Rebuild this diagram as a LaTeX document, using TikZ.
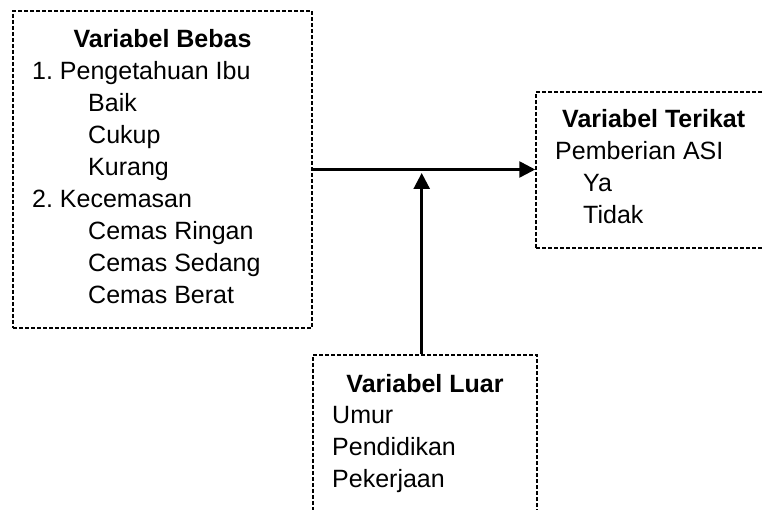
\documentclass[tikz,border=0pt]{standalone}
\usepackage{fontspec}
\setmainfont{Liberation Sans}
\usetikzlibrary{arrows.meta,positioning}
\frenchspacing
\tikzset{
  varbox/.style={draw=black,line width=1.5pt,dash pattern=on 4pt off 2pt,
    inner sep=0pt},
  vtitle/.style={anchor=base,inner sep=0pt,font=\fontsize{25}{32}\selectfont\bfseries},
  vitem/.style={anchor=base west,inner sep=0pt,font=\fontsize{25}{32}\selectfont},
  flow/.style={-{Triangle[length=16pt,width=16pt]},line width=2.6pt,draw=black},
}
\begin{document}
\begin{tikzpicture}[x=1pt,y=-1pt]
  \useasboundingbox (0,0) rectangle (763,510);
  \clip (0,0) rectangle (763,510);
  % boxes
  \node[varbox,minimum width=299pt,minimum height=317pt] (bebas) at (162.5,169.5) {};
  \node[varbox,minimum width=260pt,minimum height=156pt] (terikat) at (666,170) {};
  \node[varbox,minimum width=224pt,minimum height=180pt] (luar) at (425,445) {};
  % texts
  \node[vtitle] (bebas-t) at (162.5,48) {Variabel Bebas};
  \foreach \dx/\txt [count=\i] in {0/1. Pengetahuan Ibu,56/Baik,56/Cukup,56/Kurang,
      0/2. Kecemasan,56/Cemas Ringan,56/Cemas Sedang,56/Cemas Berat}
    \node[vitem] (bebas-\i) at ({32+\dx},{80+32*(\i-1)}) {\txt};
  \node[vitem] (terikat-t) at (562,128) {\bfseries Variabel Terikat};
  \foreach \dx/\txt [count=\i] in {0/Pemberian ASI,28/Ya,28/Tidak}
    \node[vitem] (terikat-\i) at ({555+\dx},{160+32*(\i-1)}) {\txt};
  \node[vtitle] (luar-t) at (425,392) {Variabel Luar};
  \foreach \txt [count=\i] in {Umur,Pendidikan,Pekerjaan}
    \node[vitem] (luar-\i) at ({332},{423+32*(\i-1)}) {\txt};
  % connectors
  \coordinate (tip) at (421.7,173);
  \draw[flow] (bebas.east) -- (bebas.east -| terikat.west);
  \draw[flow] (tip |- luar.north) -- (tip);
\end{tikzpicture}
\end{document}
